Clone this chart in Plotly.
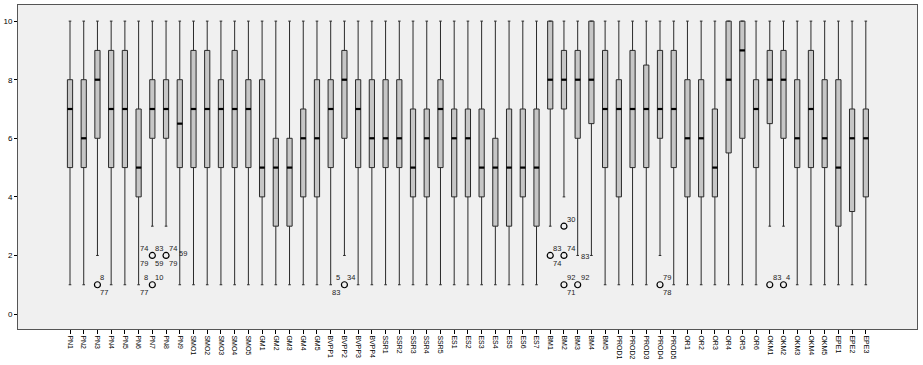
import plotly.graph_objects as go

categories = (["PN%d" % i for i in range(1, 10)] + ["SMO%d" % i for i in range(1, 6)] +
              ["GM%d" % i for i in range(1, 6)] + ["BVPP%d" % i for i in range(1, 5)] +
              ["SSR%d" % i for i in range(1, 6)] + ["ES%d" % i for i in range(1, 8)] +
              ["BM%d" % i for i in range(1, 6)] + ["PROD%d" % i for i in range(1, 6)] +
              ["OR%d" % i for i in range(1, 7)] + ["OKM%d" % i for i in range(1, 6)] +
              ["EPE%d" % i for i in range(1, 4)])

lower = [1, 1, 2, 1, 1, 1, 3, 3, 1, 1, 1, 1, 1, 1, 1, 1, 1, 1, 1, 1, 2, 1, 1, 1, 1, 1, 1, 1,
         1, 1, 1, 1, 1, 1, 1, 3, 4, 2, 2, 1, 1, 1, 1, 2, 1, 1, 1, 1, 1, 1, 1, 3, 3, 1, 1, 1,
         1, 1, 1]
q1 = [5, 5, 6, 5, 5, 4, 6, 6, 5, 5, 5, 5, 5, 5, 4, 3, 3, 4, 4, 5, 6, 5, 5, 5, 5, 4, 4, 5,
      4, 4, 4, 3, 3, 4, 3, 7, 7, 6, 6.5, 5, 4, 5, 5, 6, 5, 4, 4, 4, 5.5, 6, 5, 6.5, 6, 5,
      5, 5, 3, 3.5, 4]
median = [7, 6, 8, 7, 7, 5, 7, 7, 6.5, 7, 7, 7, 7, 7, 5, 5, 5, 6, 6, 7, 8, 7, 6, 6, 6, 5, 6,
          7, 6, 6, 5, 5, 5, 5, 5, 8, 8, 8, 8, 7, 7, 7, 7, 7, 7, 6, 6, 5, 8, 9, 7, 8, 8, 6, 7,
          6, 5, 6, 6]
q3 = [8, 8, 9, 9, 9, 7, 8, 8, 8, 9, 9, 8, 9, 8, 8, 6, 6, 7, 8, 8, 9, 8, 8, 8, 8, 7, 7, 8,
      7, 7, 7, 6, 7, 7, 7, 10, 9, 9, 10, 9, 8, 9, 8.5, 9, 9, 8, 8, 7, 10, 10, 8, 9, 9, 8, 9,
      8, 8, 7, 7]
upper = [10] * 59

# outliers: category index, value
out_cat = [2, 6, 6, 7, 20, 35, 36, 36, 36, 37, 43, 51, 52]
out_val = [1, 2, 1, 2, 1, 2, 3, 2, 1, 1, 1, 1, 1]

# outlier case labels: category index, value, text, placement
lab_cat = [2, 2, 6, 6, 6, 6, 6, 6, 6, 7, 7, 7, 20, 20, 20, 35, 35, 36, 36, 37, 36, 36,
           37, 43, 43, 51, 52]
lab_val = [1, 1, 2, 2, 2, 2, 1, 1, 1, 2, 2, 2, 1, 1, 1, 2, 2, 3, 2, 2, 1, 1, 1, 1, 1, 1, 1]
lab_txt = ["8", "77", "74", "83", "79", "59", "8", "10", "77", "74", "59", "79", "5", "34",
           "83", "83", "74", "30", "74", "83", "92", "71", "92", "79", "78", "83", "4"]
lab_pos = ["ur", "lr", "ul", "ur", "ll", "lr", "ul", "ur", "ll", "ur", "rr", "lr", "ul",
           "ur", "ll", "ur", "lr", "ur", "ur", "rl", "ur", "lr", "ur", "ur", "lr", "ur", "ur"]

xs = list(range(len(categories)))
BW = 0.38

fig = go.Figure()
fig.add_trace(go.Box(
    x=xs, q1=q1, median=median, q3=q3, lowerfence=lower, upperfence=upper,
    width=BW, whiskerwidth=0.5, boxpoints=False,
    fillcolor="#c6c6c6", line=dict(color="#2a2a2a", width=1),
    hoverinfo="skip", showlegend=False))

# thicker median bars
mx, my = [], []
for i, m in zip(xs, median):
    mx += [i - BW / 2, i + BW / 2, None]
    my += [m, m, None]
fig.add_trace(go.Scatter(x=mx, y=my, mode="lines", line=dict(color="#000000", width=2.2),
                         hoverinfo="skip", showlegend=False))

fig.add_trace(go.Scatter(x=out_cat, y=out_val, mode="markers",
                         marker=dict(symbol="circle-open", size=6, color="#000000",
                                     line=dict(width=1.2)),
                         hoverinfo="skip", showlegend=False))

place = {
    "ur": dict(xanchor="left", xshift=1, yshift=7),
    "lr": dict(xanchor="left", xshift=1, yshift=-8),
    "ul": dict(xanchor="right", xshift=-2, yshift=7),
    "ll": dict(xanchor="right", xshift=-2, yshift=-8),
    "rr": dict(xanchor="left", xshift=11, yshift=2),
    "rl": dict(xanchor="left", xshift=1, yshift=-1),
}
for c, v, t, p in zip(lab_cat, lab_val, lab_txt, lab_pos):
    fig.add_annotation(x=c, y=v, text=t, showarrow=False, yanchor="middle",
                       font=dict(size=7.5, color="#222222"), **place[p])

fig.update_layout(
    width=923, height=365,
    margin=dict(l=18, r=6, t=5, b=36),
    paper_bgcolor="#ffffff", plot_bgcolor="#f0f0f0",
    font=dict(family="Arial, Liberation Sans, sans-serif", color="#000000"),
    xaxis=dict(range=[-3.79, 61.73], tickmode="array", tickvals=xs, ticktext=categories,
               tickangle=90, tickfont=dict(size=7), ticks="outside", ticklen=4,
               tickcolor="#000000", showgrid=False, zeroline=False, showline=True,
               linecolor="#555555", mirror=True, automargin=False),
    yaxis=dict(range=[-0.51, 10.55], tickvals=[0, 2, 4, 6, 8, 10], tickfont=dict(size=8),
               ticks="outside", ticklen=3, tickcolor="#000000", showgrid=False,
               zeroline=False, showline=True, linecolor="#555555", mirror=True,
               automargin=False),
)

fig.write_html("out.html", config={"displayModeBar": False})

# remove the browser's default page margin so the figure sits at the window origin
with open("out.html", "r", encoding="utf-8") as f:
    html = f.read()
html = html.replace("<head>", "<head><style>html,body{margin:0;padding:0;}</style>", 1)
with open("out.html", "w", encoding="utf-8") as f:
    f.write(html)
